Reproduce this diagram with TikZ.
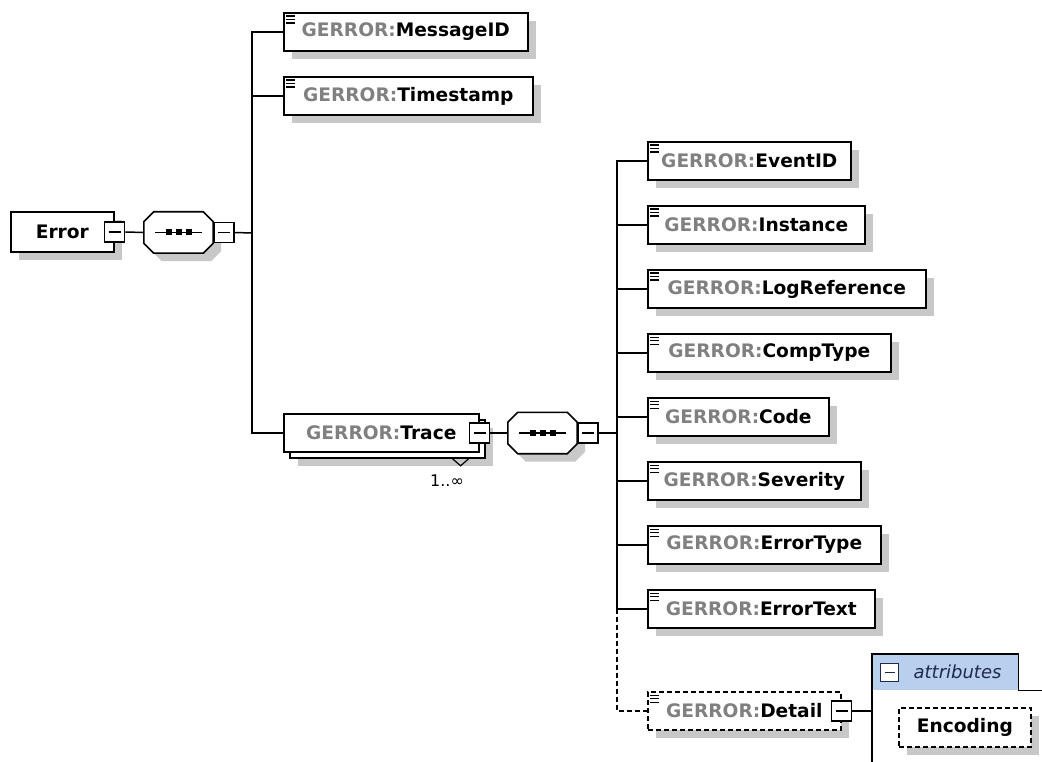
\documentclass[tikz,border=0pt]{standalone}
\usepackage{fontspec}
\setsansfont{DejaVu Sans}
\usetikzlibrary{shadows}
\definecolor{shadowgray}{RGB}{200,200,200}
\definecolor{prefixgray}{RGB}{128,128,128}
\definecolor{headblue}{RGB}{184,208,238}
\definecolor{headnavy}{RGB}{30,40,80}
\newcommand{\pre}{\textcolor{prefixgray}{GERROR:}}
% octagon round a named box, shifted by (#2,#3)
\newcommand{\octpath}[3]{([shift={(#2+10pt,#3)}]#1.north west)
  -- ([shift={(#2-10pt,#3)}]#1.north east) -- ([shift={(#2,#3-10pt)}]#1.north east)
  -- ([shift={(#2,#3+10pt)}]#1.south east) -- ([shift={(#2-10pt,#3)}]#1.south east)
  -- ([shift={(#2+10pt,#3)}]#1.south west) -- ([shift={(#2,#3+10pt)}]#1.south west)
  -- ([shift={(#2,#3-10pt)}]#1.north west) -- cycle}
\newcommand{\seqsymbol}[1]{%
  \fill[shadowgray] \octpath{#1}{8pt}{-8pt};
  \draw[line width=1.6pt, fill=white] \octpath{#1}{0pt}{0pt};
  \draw[line width=1.5pt] ([xshift=11pt]#1.west) -- ([xshift=-11pt]#1.east);
  \foreach \dx in {-10,0,10}
    \fill ([shift={(\dx pt-3pt,-3pt)}]#1.center) rectangle ++(6,-6);}
\tikzset{
  wire/.style={line width=1.5pt},
  optional/.style={dash pattern=on 5pt off 3pt},
  elem/.style={draw, line width=1.6pt, fill=white, minimum height=38, anchor=west,
    inner sep=0pt, font=\sffamily\bfseries\fontsize{18.6}{20}\selectfont},
  shadowed/.style={drop shadow={shadow xshift=8pt, shadow yshift=-8pt,
    fill=shadowgray, opacity=1}},
  minus/.style={draw, line width=1.4pt, fill=white, minimum size=20, inner sep=0pt,
    path picture={\draw[line width=1.2pt] ([xshift=4pt]path picture bounding box.west)
      -- ([xshift=-4pt]path picture bounding box.east);}},
  seqbox/.style={minimum width=69, minimum height=41, inner sep=0pt}
}
\begin{document}
\begin{tikzpicture}[x=1pt,y=-1pt]
\useasboundingbox[fill=white] (0,0) rectangle (1042,762);

% root
\node[elem, shadowed, minimum width=103, minimum height=40] (error) at (10,232) {Error\hspace{20pt}};
\node[minus] (errmin) at (error.east) {};
\node[seqbox] (seq1) at (178.5,232.5) {};
\seqsymbol{seq1}
\node[minus, anchor=west] (seq1min) at (seq1.east) {};
\coordinate (t1) at (252,233);

\node[elem, shadowed, minimum width=244] (messageid) at (283,32) {\pre MessageID};
\node[elem, shadowed, minimum width=249] (timestamp) at (283,96) {\pre Timestamp};

% trace
\node[elem, shadowed, minimum width=195] (traceback) at (289,439) {};
\node[elem, minimum width=195] (trace) at (283,433) {\pre Trace\hspace{12pt}};
\node[minus] (tracemin) at (trace.east) {};
\draw[line width=1.2pt] ([xshift=-33pt]traceback.south east) -- ++(8,7) -- ++(8,-7);
\node[font=\sffamily\fontsize{16}{18}\selectfont, inner sep=0pt] (traceocc) at (447,481) {1..∞};
\node[seqbox] (seq2) at (542.5,433) {};
\seqsymbol{seq2}
\node[minus, anchor=west] (seq2min) at (seq2.east) {};
\coordinate (t2) at (617,433);

\draw[wire] (errmin.east) -- (seq1.west);
\draw[wire] (seq1min.east) -- (t1);
\draw[wire] (messageid.west) -| (t1) |- (trace.west);
\draw[wire] (timestamp.west) -- (timestamp.west -| t1);
\draw[wire] (tracemin.east) -- (seq2.west);
\draw[wire] (seq2min.east) -- (t2);

% children of trace
\foreach \nm/\w [count=\i from 0] in {EventID/203, Instance/217, LogReference/278,
    CompType/243, Code/181, Severity/213, ErrorType/233, ErrorText/227} {
  \node[elem, shadowed, minimum width=\w] (\nm) at (647,161+64*\i) {\pre\nm};
  \draw[wire] (t2) |- (\nm.west);
}

% detail
\node[elem, shadowed, optional, minimum width=193] (detail) at (647,711) {\pre Detail\hspace{14pt}};
\node[minus] (detailmin) at (detail.east) {};
\draw[wire, optional] (ErrorText.west -| t2) |- (detail.west);

% attributes
\node[fill=headblue, minimum width=146, minimum height=36, anchor=north west, inner sep=0pt] (attrhead) at (872,654) {};
\node[minus, draw=headnavy, minimum size=18, anchor=west] (attrmin) at ([xshift=8pt]attrhead.west) {};
\node[font=\sffamily\itshape\fontsize{18}{20}\selectfont, text=headnavy, anchor=west, inner sep=0pt] (attrlabel) at ([xshift=14pt]attrmin.east) {attributes};
\draw[wire] (attrhead.north west |- 0,762) -- (attrhead.north west) -- (attrhead.north east)
  -- (attrhead.south east) -- (attrhead.south east -| 1042,0);
\draw[wire] (detailmin.east) -- (detailmin.east -| attrhead.west);
\node[elem, shadowed, optional, minimum width=132, minimum height=39] (encoding) at (898,727.5) {Encoding};

% list icons
\foreach \n in {messageid, timestamp, EventID, Instance, LogReference, CompType, Code,
    Severity, ErrorType, ErrorText, detail}
  \foreach \k in {0,3.5,7}
    \draw[line width=1.4pt] ([shift={(3pt,-4pt-\k pt)}]\n.north west) -- ++(9,0);
\end{tikzpicture}
\end{document}
